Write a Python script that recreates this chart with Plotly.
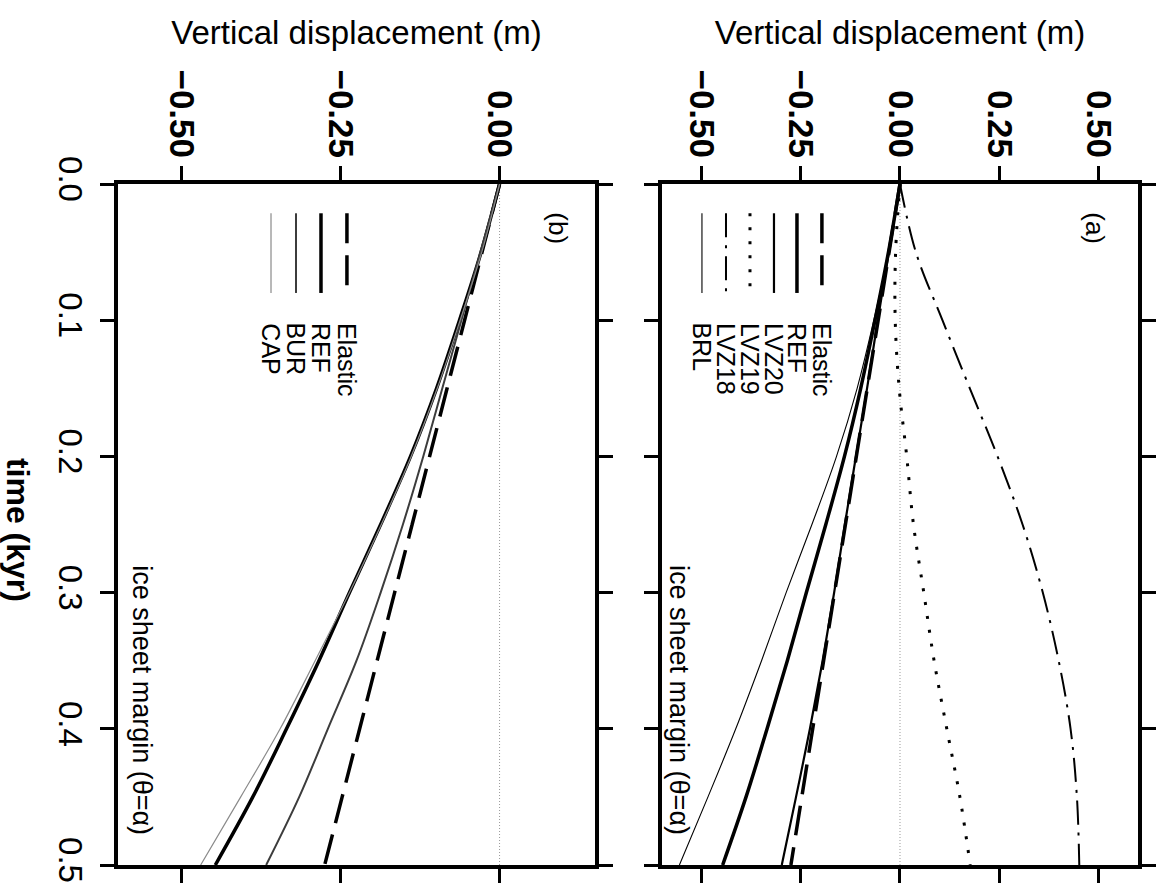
import plotly.graph_objects as go

# ---------------------------------------------------------------------------
# Data: vertical displacement (m) versus time (kyr) at the ice sheet margin
# ---------------------------------------------------------------------------
time_kyr = [0.0, 0.05, 0.1, 0.15, 0.2, 0.25, 0.3, 0.35, 0.4, 0.45, 0.5]

# panel (a): lower-mantle / low-viscosity-zone models
elastic = [0.0, -0.0275, -0.055, -0.0825, -0.11, -0.1375, -0.165, -0.1925, -0.22, -0.2475, -0.275]
ref = [0.0, -0.029, -0.063, -0.099, -0.140, -0.187, -0.236, -0.284, -0.335, -0.388, -0.447]
lvz20 = [0.0, -0.028, -0.056, -0.083, -0.111, -0.139, -0.166, -0.195, -0.227, -0.262, -0.298]
lvz19 = [0.0, -0.011, -0.012, -0.002, 0.017, 0.034, 0.060, 0.086, 0.118, 0.151, 0.177]
lvz18 = [0.0, 0.040, 0.107, 0.176, 0.246, 0.309, 0.360, 0.400, 0.430, 0.446, 0.452]
brl = [0.0, -0.029, -0.066, -0.108, -0.160, -0.222, -0.287, -0.349, -0.414, -0.484, -0.556]

# panel (b): crustal / lithosphere variants
bur = [0.0, -0.030, -0.060, -0.090, -0.120, -0.152, -0.187, -0.225, -0.270, -0.315, -0.367]
cap = [0.0, -0.028, -0.062, -0.098, -0.139, -0.186, -0.236, -0.290, -0.345, -0.407, -0.470]

disp_ticks_a = [-0.5, -0.25, 0.0, 0.25, 0.5]
disp_ticks_b = [-0.5, -0.25, 0.0]
time_ticks = [0.0, 0.1, 0.2, 0.3, 0.4, 0.5]

series_a = [
    ("Elastic", elastic, dict(color="black", width=3.5, dash="30px,12px")),
    ("REF", ref, dict(color="black", width=3.5)),
    ("LVZ20", lvz20, dict(color="black", width=2.2)),
    ("LVZ19", lvz19, dict(color="black", width=3, dash="3px,11px")),
    ("LVZ18", lvz18, dict(color="black", width=2, dash="24px,8px,3px,8px")),
    ("BRL", brl, dict(color="black", width=1.1)),
]
series_b = [
    ("Elastic", elastic, dict(color="black", width=3.5, dash="30px,12px")),
    ("REF", ref, dict(color="black", width=3.5)),
    ("BUR", bur, dict(color="#3c3c3c", width=2)),
    ("CAP", cap, dict(color="#8a8a8a", width=1.2)),
]

FONT = "Liberation Sans, Arial, Helvetica, sans-serif"

fig = go.Figure()

for name, vals, style in series_b:
    fig.add_trace(go.Scatter(x=vals, y=time_kyr, mode="lines", name=name,
                             line=dict(shape="spline", smoothing=1.0, **style),
                             xaxis="x", yaxis="y", showlegend=False))
for name, vals, style in series_a:
    fig.add_trace(go.Scatter(x=vals, y=time_kyr, mode="lines", name=name,
                             line=dict(shape="spline", smoothing=1.0, **style),
                             xaxis="x2", yaxis="y2", showlegend=False))

# zero-displacement reference lines
for xr, yr in (("x", "y"), ("x2", "y2")):
    fig.add_shape(type="line", xref=xr, yref=f"{yr} domain", x0=0, x1=0, y0=0, y1=1,
                  line=dict(color="#9a9a9a", width=1, dash="1px,2px"), layer="below")

# in-panel legends: vertical line samples with rotated labels beneath
legend_a_pos = [0.336, 0.2836, 0.2353, 0.1849, 0.1345, 0.084]
legend_b_pos = [0.480, 0.4256, 0.3732, 0.3208]
for (name, _, style), xp in zip(series_a, legend_a_pos):
    fig.add_shape(type="line", xref="x2 domain", yref="y2 domain",
                  x0=xp, x1=xp, y0=0.957, y1=0.840, line=style)
    fig.add_annotation(text=name, xref="x2 domain", yref="y2 domain", x=xp, y=0.799,
                       xanchor="center", yanchor="top", textangle=90, showarrow=False,
                       font=dict(family=FONT, size=25, color="black"))
for (name, _, style), xp in zip(series_b, legend_b_pos):
    fig.add_shape(type="line", xref="x domain", yref="y domain",
                  x0=xp, x1=xp, y0=0.957, y1=0.840, line=style)
    fig.add_annotation(text=name, xref="x domain", yref="y domain", x=xp, y=0.799,
                       xanchor="center", yanchor="top", textangle=90, showarrow=False,
                       font=dict(family=FONT, size=25, color="black"))

# panel tags and location notes
for xr, yr, tag, xt, xn in (("x2", "y2", "(a)", 0.9097, 0.0357),
                            ("x", "y", "(b)", 0.9224, 0.050)):
    fig.add_annotation(text=tag, xref=f"{xr} domain", yref=f"{yr} domain", x=xt, y=0.935,
                       xanchor="center", yanchor="middle", textangle=90, showarrow=False,
                       font=dict(family=FONT, size=26, color="black"))
    fig.add_annotation(text="ice sheet margin (θ=α)", xref=f"{xr} domain", yref=f"{yr} domain",
                       x=xn, y=0.4435, xanchor="center", yanchor="top", textangle=90,
                       showarrow=False, font=dict(family=FONT, size=27, color="black"))

# time axis title (reads top to bottom)
fig.add_annotation(text="time (kyr)", xref="paper", yref="paper", x=-0.098, y=0.492,
                   xanchor="center", yanchor="middle", textangle=90, showarrow=False,
                   font=dict(family=FONT, size=32, color="black", weight="bold"))

xaxis_common = dict(
    side="top", showline=True, linewidth=3.5, linecolor="black", mirror="ticks",
    ticks="outside", ticklen=14, tickwidth=2.5, tickcolor="black",
    showgrid=False, zeroline=False, tickangle=90, tickformat=".2f",
    ticklabelstandoff=-4,
    tickfont=dict(family=FONT, size=35, color="black", weight="bold"),
    title=dict(text="Vertical displacement (m)", standoff=16,
               font=dict(family=FONT, size=33, color="black")),
    automargin=False,
)
yaxis_common = dict(
    range=[0.5, 0.0], showline=True, linewidth=3.5, linecolor="black", mirror="ticks",
    ticks="outside", ticklen=14, tickwidth=2.5, tickcolor="black",
    showgrid=False, zeroline=False, tickvals=time_ticks, tickformat=".1f",
    automargin=False,
)

fig.update_layout(
    width=1160, height=891,
    margin=dict(l=118, r=22, t=184, b=26),
    paper_bgcolor="white", plot_bgcolor="white",
    font=dict(family=FONT, color="black"),
    xaxis=dict(domain=[0.0, 0.4676], range=[-0.6, 0.15], tickvals=disp_ticks_b,
               anchor="y", **xaxis_common),
    xaxis2=dict(domain=[0.5333, 1.0], range=[-0.6, 0.6], tickvals=disp_ticks_a,
                anchor="y2", **xaxis_common),
    yaxis=dict(anchor="x", tickangle=90, ticklabelstandoff=2,
               tickfont=dict(family=FONT, size=33, color="black"), **yaxis_common),
    yaxis2=dict(anchor="x2", matches="y", showticklabels=False, **yaxis_common),
)

fig.write_html("out.html")
